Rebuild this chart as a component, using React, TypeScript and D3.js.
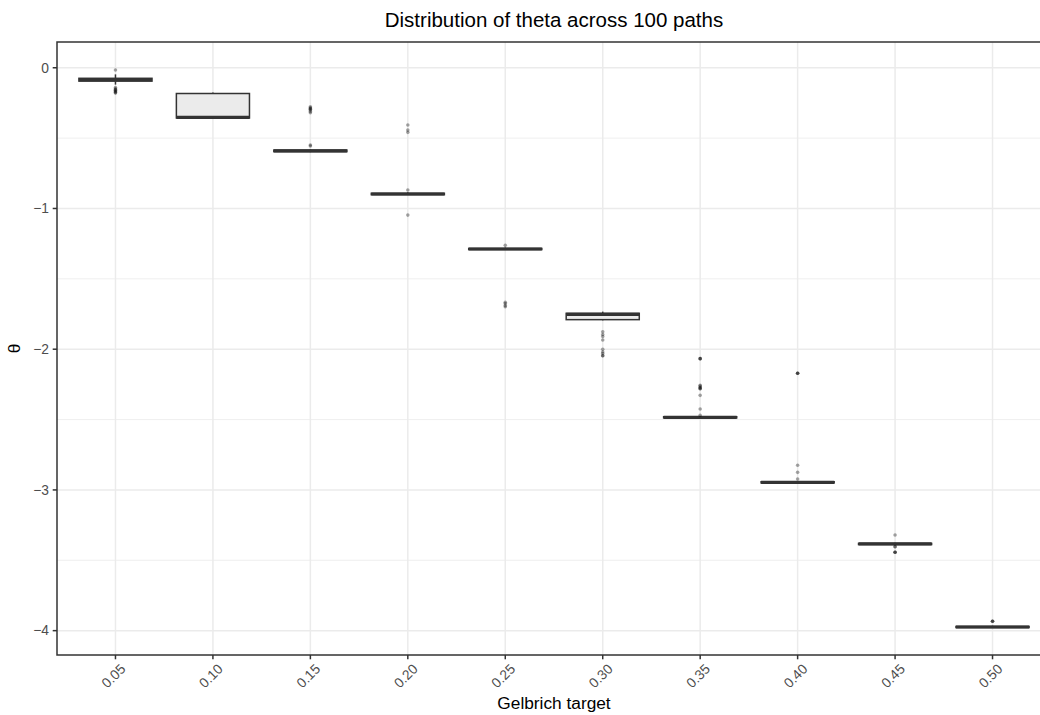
import React from "react";
import * as d3 from "d3";

const categories = ["0.05", "0.10", "0.15", "0.20", "0.25", "0.30", "0.35", "0.40", "0.45", "0.50"];
const q1 = [-0.095, -0.357, -0.596, -0.902, -1.292, -1.790, -2.488, -2.950, -3.388, -3.978];
const medians = [-0.085, -0.352, -0.590, -0.897, -1.288, -1.752, -2.484, -2.946, -3.384, -3.974];
const q3 = [-0.075, -0.183, -0.585, -0.892, -1.284, -1.745, -2.480, -2.942, -3.380, -3.970];
const whiskerLow = [-0.120, -0.360, -0.600, -0.905, -1.295, -1.795, -2.490, -2.952, -3.392, -3.980];
const whiskerHigh = [-0.047, -0.175, -0.580, -0.885, -1.278, -1.733, -2.475, -2.938, -3.375, -3.965];
const outliers: number[][] = [
  [-0.016, -0.14, -0.15, -0.155, -0.16, -0.165, -0.17, -0.175, -0.18],
  [],
  [-0.277, -0.285, -0.29, -0.295, -0.30, -0.31, -0.32, -0.549, -0.556],
  [-0.407, -0.443, -0.459, -0.869, -1.047],
  [-1.262, -1.667, -1.675, -1.69, -1.698],
  [-1.876, -1.895, -1.91, -1.935, -2.001, -2.02, -2.03, -2.046, -2.046],
  [-2.067, -2.067, -2.067, -2.257, -2.262, -2.27, -2.275, -2.281, -2.281, -2.328, -2.425, -2.47],
  [-2.171, -2.171, -2.171, -2.825, -2.875, -2.922],
  [-3.32, -3.403, -3.403, -3.443, -3.443, -3.443],
  [-3.933, -3.933, -3.933],
];
const yTicks = [0, -1, -2, -3, -4];
const yMinor = [-0.5, -1.5, -2.5, -3.5];

export default function App() {
  const W = 1040, H = 715;
  const left = 57, right = 1051, top = 42, bottom = 655;
  const x = d3.scaleLinear().domain([0.4, categories.length + 0.6]).range([left, right]);
  const y = d3.scaleLinear().domain([0.183, -4.173]).range([top, bottom]);
  const bw = (x(1) - x(0)) * 0.75;
  const font = "'Liberation Sans', Arial, Helvetica, sans-serif";
  const grid = "#EBEBEB";
  const dark = "#333333";

  return (
    <svg width={W} height={H} style={{ position: "absolute", left: 0, top: 0, background: "#fff" }} fontFamily={font}>
      <rect x={0} y={0} width={W} height={H} fill="#fff" />
      <defs>
        <clipPath id="panel">
          <rect x={left} y={top} width={right - left} height={bottom - top} />
        </clipPath>
      </defs>
      <g clipPath="url(#panel)">
        {yMinor.map((v) => (
          <line key={"mn" + v} x1={left} x2={right} y1={y(v)} y2={y(v)} stroke={grid} strokeWidth={0.8} />
        ))}
        {yTicks.map((v) => (
          <line key={"mj" + v} x1={left} x2={right} y1={y(v)} y2={y(v)} stroke={grid} strokeWidth={1.5} />
        ))}
        {categories.map((c, i) => (
          <line key={"vx" + c} x1={x(i + 1)} x2={x(i + 1)} y1={top} y2={bottom} stroke={grid} strokeWidth={1.5} />
        ))}
        {categories.map((c, i) => {
          const cx = x(i + 1);
          return (
            <g key={"box" + c}>
              <line x1={cx} x2={cx} y1={y(q3[i])} y2={y(whiskerHigh[i])} stroke={dark} strokeWidth={1.5} />
              <line x1={cx} x2={cx} y1={y(q1[i])} y2={y(whiskerLow[i])} stroke={dark} strokeWidth={1.5} />
              <rect
                x={cx - bw / 2}
                y={y(q3[i])}
                width={bw}
                height={Math.max(0.01, y(q1[i]) - y(q3[i]))}
                fill="#EBEBEB"
                stroke={dark}
                strokeWidth={1.5}
              />
              <line x1={cx - bw / 2} x2={cx + bw / 2} y1={y(medians[i])} y2={y(medians[i])} stroke={dark} strokeWidth={3.2} />
              {outliers[i].map((v, k) => (
                <circle key={k} cx={cx} cy={y(v)} r={1.8} fill="#000" fillOpacity={0.35} />
              ))}
            </g>
          );
        })}
      </g>
      <rect x={left} y={top} width={right - left} height={bottom - top} fill="none" stroke={dark} strokeWidth={1.5} />
      {yTicks.map((v) => (
        <g key={"yt" + v}>
          <line x1={left - 4.3} x2={left} y1={y(v)} y2={y(v)} stroke={dark} strokeWidth={1.5} />
          <text x={left - 8} y={y(v)} dy="0.35em" textAnchor="end" fontSize={13.8} fill="#4D4D4D">
            {v === 0 ? "0" : "\u2212" + Math.abs(v)}
          </text>
        </g>
      ))}
      {categories.map((c, i) => (
        <g key={"xt" + c}>
          <line x1={x(i + 1)} x2={x(i + 1)} y1={bottom} y2={bottom + 4.3} stroke={dark} strokeWidth={1.5} />
          <text
            transform={`translate(${x(i + 1) + 4},${bottom + 8}) rotate(-45)`}
            textAnchor="end"
            dy="0.7em"
            fontSize={13.8}
            fill="#4D4D4D"
          >
            {c}
          </text>
        </g>
      ))}
      <text x={(left + right) / 2} y={27} textAnchor="middle" fontSize={20.5} fill="#000">
        Distribution of theta across 100 paths
      </text>
      <text x={(left + right) / 2} y={709} textAnchor="middle" fontSize={17.3} fill="#000">
        Gelbrich target
      </text>
      <text transform={`translate(20,${(top + bottom) / 2}) rotate(-90)`} textAnchor="middle" fontSize={17.3} fill="#000">
        θ
      </text>
    </svg>
  );
}
